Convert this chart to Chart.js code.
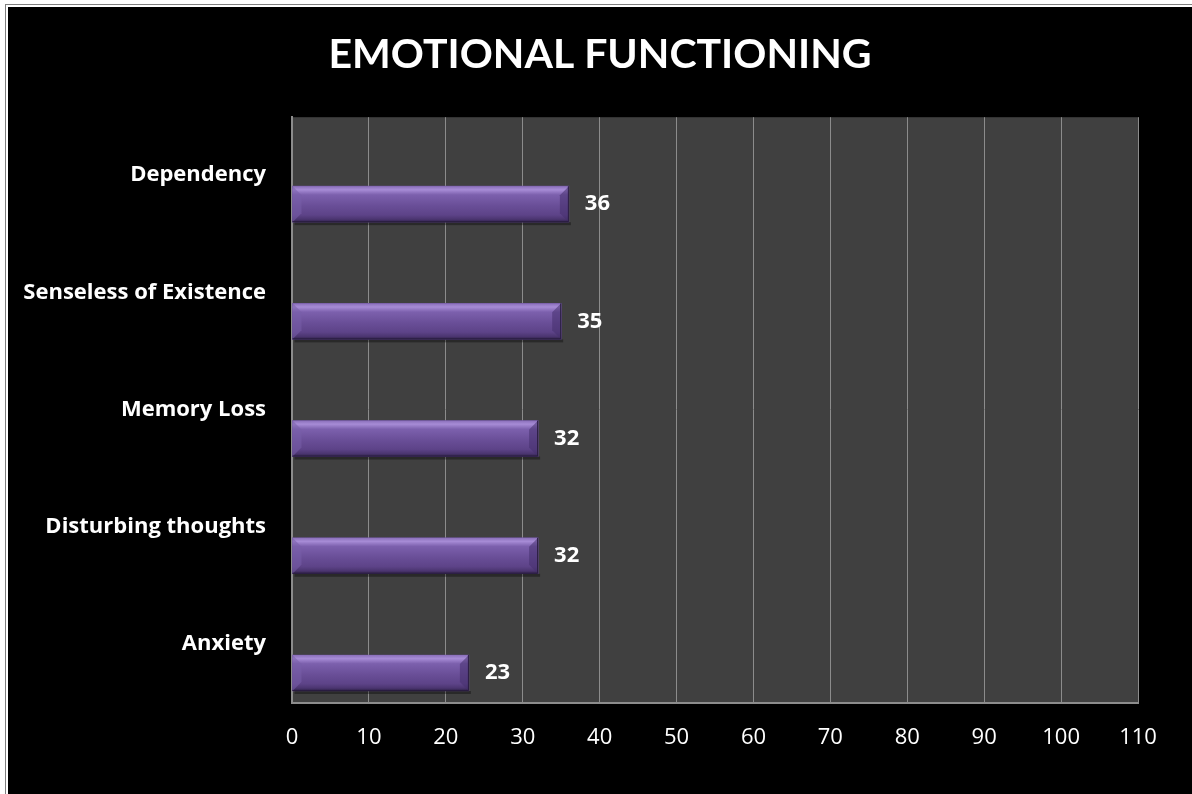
<!DOCTYPE html>
<html>
<head>
<meta charset="utf-8">
<title>Emotional Functioning</title>
<script src="https://cdn.jsdelivr.net/npm/chart.js@4.4.1/dist/chart.umd.min.js"></script>
<style>
  html, body { margin: 0; padding: 0; background: #fff; overflow: hidden; }
  #frame {
    position: absolute; left: 5px; top: 4px;
    border: 1px solid #7f7f7f; padding: 2px; background: #fff;
  }
  #myChart { display: block; background: #000; }
</style>
</head>
<body>
<div id="frame">
  <canvas id="myChart" width="1184" height="787"></canvas>
</div>
<script>
// dados do grafico (de cima para baixo)
const categorias = ['Dependency', 'Senseless of Existence', 'Memory Loss', 'Disturbing thoughts', 'Anxiety'];
const valores = [36, 35, 32, 32, 23];
const escalaMax = 110;
const passo = 10;

const fonteTitulo = 'Lato, "Open Sans", sans-serif';
const fonte = '"Open Sans", Lato, sans-serif';

// fundo cinza da area de plotagem
const fundoArea = {
    id: 'fundoArea',
    beforeDraw(chart) {
        const { ctx, chartArea: a } = chart;
        ctx.save();
        ctx.fillStyle = '#404040';
        ctx.fillRect(a.left, a.top, a.right - a.left, a.bottom - a.top);
        ctx.restore();
    }
};

// barras com efeito de chanfro + rotulos de valor
const barrasChanfradas = {
    id: 'barrasChanfradas',
    afterDatasetsDraw(chart) {
        const ctx = chart.ctx;
        const meta = chart.getDatasetMeta(0);
        meta.data.forEach(function (bar, i) {
            const p = bar.getProps(['x', 'y', 'base', 'height']);
            const x0 = Math.min(p.base, p.x), x1 = Math.max(p.base, p.x);
            const y0 = p.y - p.height / 2, y1 = p.y + p.height / 2;
            const b = 9;
            ctx.save();

            // sombra
            ctx.fillStyle = 'rgba(0,0,0,0.35)';
            ctx.fillRect(x0 + 2, y1, x1 - x0, 3);

            // face principal
            const g = ctx.createLinearGradient(0, y0, 0, y1);
            g.addColorStop(0, '#8a6fba');
            g.addColorStop(0.1, '#a78cd6');
            g.addColorStop(0.24, '#7c60ad');
            g.addColorStop(0.55, '#694e97');
            g.addColorStop(0.8, '#5d4388');
            g.addColorStop(0.92, '#4b3570');
            g.addColorStop(1, '#2f2147');
            ctx.fillStyle = g;
            ctx.fillRect(x0, y0, x1 - x0, y1 - y0);

            // canto esquerdo
            ctx.beginPath();
            ctx.moveTo(x0, y0);
            ctx.lineTo(x0 + b, y0 + b);
            ctx.lineTo(x0 + b, y1 - b);
            ctx.lineTo(x0, y1);
            ctx.closePath();
            ctx.fillStyle = 'rgba(120, 95, 170, 0.55)';
            ctx.fill();

            // canto direito
            ctx.beginPath();
            ctx.moveTo(x1, y0);
            ctx.lineTo(x1 - b, y0 + b);
            ctx.lineTo(x1 - b, y1 - b);
            ctx.lineTo(x1, y1);
            ctx.closePath();
            ctx.fillStyle = 'rgba(70, 48, 110, 0.55)';
            ctx.fill();

            // borda
            ctx.strokeStyle = '#2a1d40';
            ctx.lineWidth = 1;
            ctx.beginPath();
            ctx.moveTo(x1 - 0.5, y0);
            ctx.lineTo(x1 - 0.5, y1 - 0.5);
            ctx.lineTo(x0, y1 - 0.5);
            ctx.stroke();

            // valor
            ctx.fillStyle = '#ffffff';
            ctx.font = 'bold 22px ' + fonte;
            ctx.textAlign = 'left';
            ctx.textBaseline = 'middle';
            ctx.fillText(String(valores[i]), x1 + 16, p.y);
            ctx.restore();
        });
    }
};

const ctx = document.getElementById('myChart').getContext('2d');
const myChart = new Chart(ctx, {
    type: 'bar',
    data: {
        datasets: [{
            label: 'Emotional Functioning',
            data: valores.map(function (v, i) { return { x: v, y: i }; }),
            backgroundColor: '#694e97',
            borderWidth: 0,
            barThickness: 36
        }]
    },
    options: {
        indexAxis: 'y',
        responsive: false,
        animation: false,
        layout: { padding: 0 },
        plugins: {
            legend: { display: false },
            tooltip: { enabled: false },
            title: {
                display: true,
                text: 'EMOTIONAL FUNCTIONING',
                color: '#ffffff',
                font: { family: fonteTitulo, size: 41, weight: 'bold', lineHeight: 1.2 },
                padding: { top: 23, bottom: 38 }
            }
        },
        scales: {
            x: {
                type: 'linear',
                min: 0,
                max: escalaMax,
                afterFit: function (s) { s.height = 91; },
                ticks: {
                    stepSize: passo,
                    color: '#ffffff',
                    padding: 22,
                    font: { family: fonte, size: 22 }
                },
                grid: { color: '#8c8c8c', lineWidth: 1, drawTicks: false },
                border: { display: true, color: '#8c8c8c', width: 2 }
            },
            y: {
                type: 'linear',
                reverse: true,
                offset: false,
                min: -0.742,
                max: 4.256,
                afterFit: function (s) { s.width = 284; },
                afterBuildTicks: function (s) {
                    s.ticks = categorias.map(function (c, i) { return { value: i }; });
                },
                ticks: {
                    callback: function (v) { return categorias[v]; },
                    color: '#ffffff',
                    padding: 26,
                    labelOffset: -29,
                    font: { family: fonte, size: 22, weight: 'bold' }
                },
                grid: { display: false, drawTicks: false },
                border: { display: true, color: '#8c8c8c', width: 2 }
            },
            // margem vazia do lado direito
            margemDir: {
                type: 'linear',
                position: 'right',
                afterFit: function (s) { s.width = 54; },
                ticks: { display: false },
                grid: { display: false, drawTicks: false },
                border: { display: false }
            }
        }
    },
    plugins: [fundoArea, barrasChanfradas]
});
</script>
</body>
</html>
